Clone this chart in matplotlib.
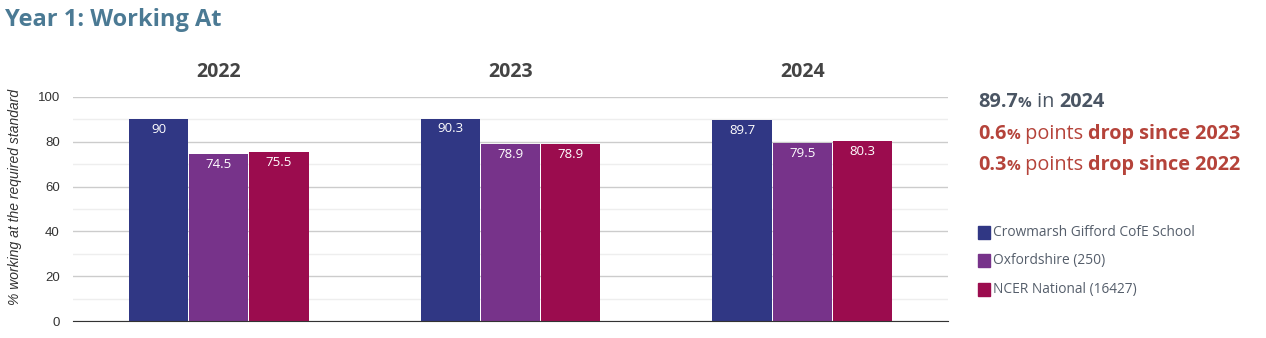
import numpy as np
import matplotlib.pyplot as plt
from matplotlib.patches import Rectangle

# Data
years = ['2022', '2023', '2024']
school = [90, 90.3, 89.7]
oxon = [74.5, 78.9, 79.5]
national = [75.5, 78.9, 80.3]
series_names = ['Crowmarsh Gifford CofE School', 'Oxfordshire (250)', 'NCER National (16427)']
colors = ['#303784', '#77338a', '#9b0c4e']

fig = plt.figure(figsize=(12.66, 3.38), dpi=100)
ax = fig.add_axes([73 / 1266, 17 / 338, 875 / 1266, 224 / 338])

x = np.arange(len(years))
w = 0.203
off = 0.206
for i, (vals, c) in enumerate(zip([school, oxon, national], colors)):
    bars = ax.bar(x + (i - 1) * off, vals, w, color=c, zorder=3)
    ax.bar_label(bars, labels=[f'{v:g}' for v in vals], padding=-12,
                 color='white', fontsize=9.5, family='Open Sans')

ax.set_xlim(-0.5, 2.5)
ax.set_ylim(0, 100)
ax.set_yticks(range(0, 101, 20))
ax.set_yticks(range(10, 100, 20), minor=True)
ax.grid(axis='y', which='major', color='#cccccc', lw=1, zorder=0)
ax.grid(axis='y', which='minor', color='#eeeeee', lw=1, zorder=0)
ax.tick_params(axis='y', which='both', length=0, pad=9.5, labelsize=9.5,
               labelcolor='#333333')
for lab in ax.get_yticklabels():
    lab.set_family('Liberation Sans')

ax.xaxis.tick_top()
ax.set_xticks(x)
ax.set_xticklabels(years, fontsize=14, fontweight='bold', color='#444444',
                   family='Open Sans')
ax.tick_params(axis='x', length=0, pad=11)

for s in ['top', 'right', 'left']:
    ax.spines[s].set_visible(False)
ax.spines['bottom'].set_color('#333333')
ax.spines['bottom'].set_zorder(4)

fig.text(8 / 1266, 1 - 197 / 338, '% working at the required standard', rotation=90,
         fontsize=10, style='italic', family='Liberation Sans', color='#333333',
         ha='left', va='center')

fig.text(5 / 1266, 1 - 20 / 338, 'Year 1: Working At', fontsize=17, fontweight='bold',
         family='Open Sans', color='#4b7a94', va='center')

# Right-hand summary, built from pieces with mixed weights/sizes
fig.canvas.draw()
renderer = fig.canvas.get_renderer()


def write_line(x0, y, pieces):
    xp = x0
    for txt, size, weight, color in pieces:
        t = fig.text(xp / 1266, 1 - y / 338, txt, fontsize=size, fontweight=weight,
                     color=color, family='Open Sans', va='baseline')
        bb = t.get_window_extent(renderer)
        xp += bb.width


dark = '#4a5563'
red = '#b5433a'
fs = 14.3
write_line(978, 107, [('89.7', fs, 'bold', dark), ('%', 11, 'bold', dark),
                      (' in ', fs, 'normal', dark), ('2024', fs, 'bold', dark)])
write_line(978, 139, [('0.6', fs, 'bold', red), ('%', 11, 'bold', red),
                      (' points ', fs, 'normal', red), ('drop since 2023', fs, 'bold', red)])
write_line(978, 170, [('0.3', fs, 'bold', red), ('%', 11, 'bold', red),
                      (' points ', fs, 'normal', red), ('drop since 2022', fs, 'bold', red)])

# Legend
for k, (name, c) in enumerate(zip(series_names, colors)):
    yc = 232 + k * 28.5
    fig.patches.append(Rectangle((978 / 1266, 1 - (yc + 6.5) / 338), 12 / 1266, 13 / 338,
                                 transform=fig.transFigure, color=c))
    fig.text(993 / 1266, 1 - yc / 338, name, fontsize=9.9, color='#555e6b',
             family='Open Sans', va='center')

fig.savefig('out.png', dpi=100)
